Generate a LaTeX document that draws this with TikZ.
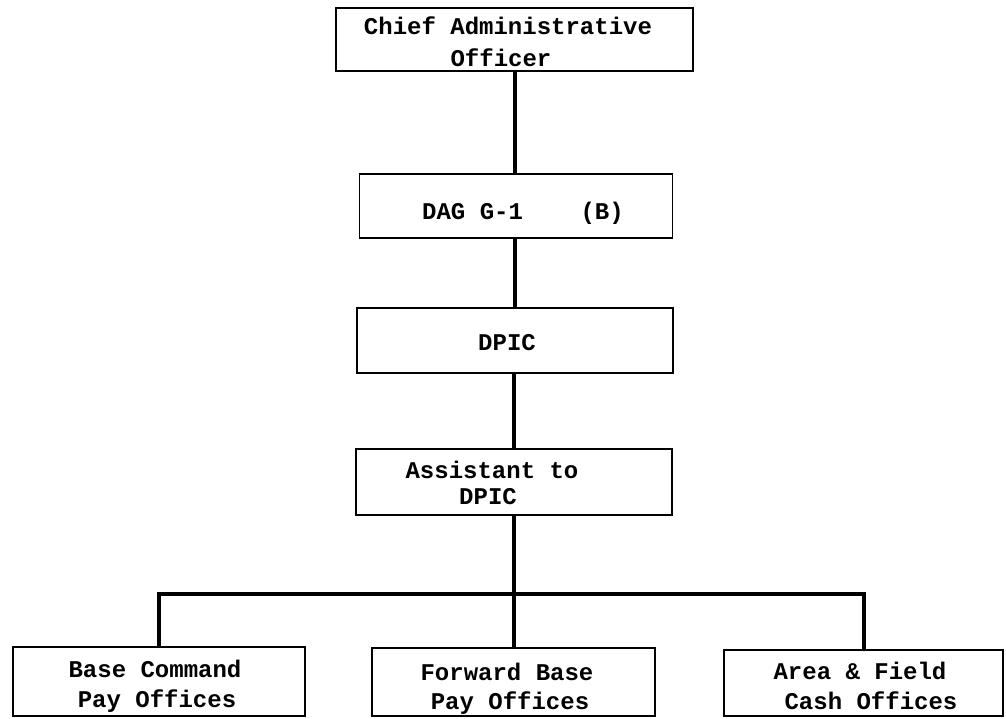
\documentclass[tikz,border=0pt]{standalone}
\usepackage{fontspec}
\newfontfamily\tw{Liberation Mono}
\begin{document}
\begin{tikzpicture}[x=1pt,y=-1pt,
  box/.style={draw=black,line width=1.6pt,rectangle,inner sep=0pt,minimum width=#1},
  lbl/.style={font=\tw\bfseries\fontsize{24}{30}\selectfont,anchor=base,inner sep=0pt},
  conn/.style={line width=4pt,line join=miter}]
\useasboundingbox[fill=white] (0,0) rectangle (1006,718);
% boxes
\node[box=357pt,minimum height=63pt] (cao) at (514.5,39.5) {};
\node[box=313pt,minimum height=64pt] (dag) at (516,206) {};
\node[box=316pt,minimum height=65pt] (dpic) at (515,340.5) {};
\node[box=316pt,minimum height=66pt] (asst) at (514,482) {};
\node[box=292pt,minimum height=69pt] (bcpo) at (159,681.5) {};
\node[box=283pt,minimum height=68pt] (fbpo) at (513.5,682) {};
\node[box=279pt,minimum height=66pt] (afco) at (863.5,683) {};
% labels
\node[lbl] (cao1) at (508,34) {Chief Administrative};
\node[lbl] (cao2) at (501,66) {Officer};
\node[lbl] (dag1) at (523,219) {DAG G-1\ \ \ \ (B)};
\node[lbl] (dpic1) at (507,350) {DPIC};
\node[lbl] (asst1) at (492,478) {Assistant to};
\node[lbl] (asst2) at (488,504) {DPIC};
\node[lbl] (bc1) at (155,677) {Base Command};
\node[lbl] (bc2) at (157,707) {Pay Offices};
\node[lbl] (fb1) at (507,680) {Forward Base};
\node[lbl] (fb2) at (510,709) {Pay Offices};
\node[lbl] (af1) at (860,679) {Area \& Field};
\node[lbl] (af2) at (871,709) {Cash Offices};
% connectors
\coordinate (bus) at (514,594);
\draw[conn] (cao.south -| dag.north) ++(-1.5,0) coordinate (c1) -- (c1 |- dag.north);
\draw[conn] (dag.south -| dpic.north) -- (dpic.north);
\draw[conn] (dpic.south -| asst.north) -- (asst.north);
\draw[conn] (asst.south) -- (asst.south |- fbpo.north);
\draw[conn] (bcpo.north) |- (bus) -| (afco.north);
\end{tikzpicture}
\end{document}
